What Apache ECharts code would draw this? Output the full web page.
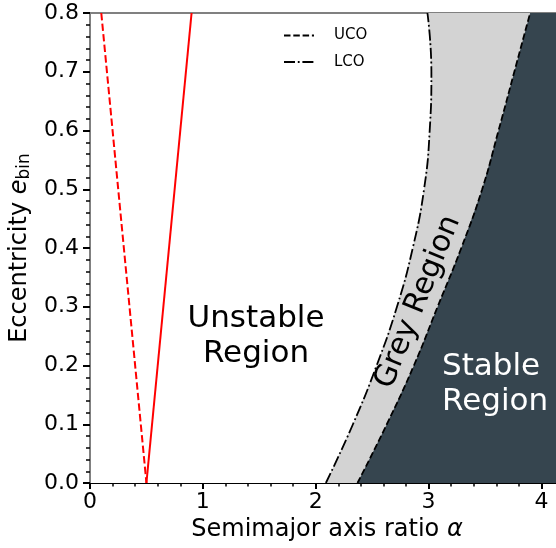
<!DOCTYPE html>
<html>
<head>
<meta charset="utf-8">
<script src="https://cdn.jsdelivr.net/npm/echarts@6/dist/echarts.min.js"></script>
<style>
  html, body { margin: 0; padding: 0; background: #ffffff; }
  #chart { width: 556px; height: 548px; }
</style>
</head>
<body>
<div id="chart"></div>
<script>
// Binary eccentricity samples at which the orbit boundaries are tabulated
const eccSamples = [0.0, 0.1, 0.2, 0.3, 0.4, 0.5, 0.6, 0.7, 0.8];
// Lower critical orbit (LCO): semimajor axis ratio at each eccentricity
const lcoAlpha = [2.09, 2.33, 2.54, 2.72, 2.86, 2.96, 3.01, 3.025, 2.99];
// Upper critical orbit (UCO): semimajor axis ratio at each eccentricity
const ucoAlpha = [2.37, 2.63, 2.87, 3.08, 3.29, 3.475, 3.62, 3.76, 3.90];

// Red resonance boundaries near small alpha
const redDashAlpha = [0.1, 0.5];
const redDashEcc = [0.8, 0.0];
const redSolidAlpha = [0.5, 0.9];
const redSolidEcc = [0.0, 0.8];

// Axis ranges and tick labels
const alphaRange = [0, 4.2];
const eccRange = [0, 0.8];
const xTickValues = [0, 1, 2, 3, 4];
const xTickLabels = ['0', '1', '2', '3', '4'];
const yTickValues = [0.0, 0.1, 0.2, 0.3, 0.4, 0.5, 0.6, 0.7, 0.8];
const yTickLabels = ['0.0', '0.1', '0.2', '0.3', '0.4', '0.5', '0.6', '0.7', '0.8'];

const FONT = 'DejaVu Sans';

function pairs(xs, ys) {
  return xs.map((x, i) => [x, ys[i]]);
}
const lcoPoints = pairs(lcoAlpha, eccSamples);
const ucoPoints = pairs(ucoAlpha, eccSamples);

// Closed region to the right of a boundary curve
function regionRightOf(curve) {
  return curve.concat([[alphaRange[1], eccRange[1]], [alphaRange[1], eccRange[0]]]);
}

function lookupLabel(values, labels) {
  return function (v) {
    for (let i = 0; i < values.length; i++) {
      if (Math.abs(values[i] - v) < 1e-9) return labels[i];
    }
    return '';
  };
}

function regionSeries(name, curve, color, z) {
  const poly = regionRightOf(curve);
  return {
    name: name,
    type: 'custom',
    data: [0],
    z: z,
    silent: true,
    clip: true,
    renderItem: function (params, api) {
      return {
        type: 'polygon',
        shape: { points: poly.map(p => api.coord(p)) },
        style: { fill: color, stroke: null }
      };
    }
  };
}

const chart = echarts.init(document.getElementById('chart'), null, { renderer: 'canvas' });

chart.setOption({
  animation: false,
  backgroundColor: '#ffffff',
  textStyle: { fontFamily: FONT },
  grid: {
    left: 90, top: 13, width: 474, height: 470,
    containLabel: false, outerBoundsMode: 'none'
  },
  legend: {
    orient: 'vertical',
    left: 278,
    top: 23,
    itemWidth: 30,
    itemHeight: 10,
    itemGap: 11.5,
    data: ['UCO', 'LCO'],
    itemStyle: { opacity: 0 },
    textStyle: { fontFamily: FONT, fontSize: 15, color: '#000', padding: [0, 0, 0, 15] }
  },
  xAxis: [
    {
      type: 'value',
      min: alphaRange[0],
      max: alphaRange[1],
      interval: 1,
      position: 'bottom',
      name: 'Semimajor axis ratio {i|α}',
      nameLocation: 'middle',
      nameGap: 29,
      nameTextStyle: {
        fontFamily: FONT, fontSize: 24, color: '#000',
        rich: { i: { fontFamily: FONT, fontSize: 24, fontStyle: 'italic', color: '#000' } }
      },
      axisLine: { show: true, lineStyle: { color: '#000', width: 1.2 } },
      axisTick: { show: true, length: 6, lineStyle: { color: '#000', width: 2 } },
      minorTick: { show: true, splitNumber: 5, length: 3.5, lineStyle: { color: '#000', width: 1.5 } },
      splitLine: { show: false },
      minorSplitLine: { show: false },
      axisLabel: {
        margin: 8,
        showMaxLabel: false,
        fontFamily: FONT, fontSize: 22, color: '#000',
        formatter: lookupLabel(xTickValues, xTickLabels)
      }
    },
    {
      type: 'value',
      min: alphaRange[0],
      max: alphaRange[1],
      position: 'top',
      axisLine: { show: true, lineStyle: { color: '#808080', width: 2 } },
      axisTick: { show: false },
      axisLabel: { show: false },
      splitLine: { show: false }
    }
  ],
  yAxis: {
    type: 'value',
    min: eccRange[0],
    max: eccRange[1],
    interval: 0.1,
    name: 'Eccentricity {i|e}{sub|bin}',
    nameLocation: 'middle',
    nameRotate: 90,
    nameGap: 53,
    nameTextStyle: {
      fontFamily: FONT, fontSize: 24, color: '#000',
      rich: {
        i: { fontFamily: FONT, fontSize: 24, fontStyle: 'italic', color: '#000' },
        sub: { fontFamily: FONT, fontSize: 17, color: '#000', padding: [10, 0, 0, 0] }
      }
    },
    axisLine: { show: true, lineStyle: { color: '#808080', width: 2 } },
    axisTick: { show: true, length: 7, lineStyle: { color: '#000', width: 2 } },
    minorTick: { show: true, splitNumber: 5, length: 4, lineStyle: { color: '#000', width: 1.5 } },
    splitLine: { show: false },
    minorSplitLine: { show: false },
    axisLabel: {
      margin: 11,
      fontFamily: FONT, fontSize: 22, color: '#000',
      formatter: lookupLabel(yTickValues, yTickLabels)
    }
  },
  graphic: [
    {
      type: 'text', z: 100, silent: true,
      style: {
        text: 'Unstable\nRegion', x: 256, y: 336,
        textAlign: 'center', textVerticalAlign: 'middle',
        fontFamily: FONT, fontSize: 31, lineHeight: 35, fill: '#000'
      }
    },
    {
      type: 'text', z: 100, silent: true,
      style: {
        text: 'Stable\nRegion', x: 442, y: 384,
        textAlign: 'left', textVerticalAlign: 'middle',
        fontFamily: FONT, fontSize: 31, lineHeight: 35, fill: '#ffffff'
      }
    },
    {
      type: 'text', z: 100, silent: true,
      x: 418, y: 302, rotation: 68 * Math.PI / 180,
      style: {
        text: 'Grey Region', x: 0, y: 0,
        textAlign: 'center', textVerticalAlign: 'middle',
        fontFamily: FONT, fontSize: 30, fill: '#000'
      }
    }
  ],
  series: [
    regionSeries('grey-region', lcoPoints, '#d3d3d3', 1),
    regionSeries('stable-region', ucoPoints, '#36454f', 2),
    {
      name: 'red-dashed',
      type: 'line',
      data: pairs(redDashAlpha, redDashEcc),
      symbol: 'none',
      z: 5,
      lineStyle: { color: '#ff0000', width: 2, type: [7.4, 3.2] }
    },
    {
      name: 'red-solid',
      type: 'line',
      data: pairs(redSolidAlpha, redSolidEcc),
      symbol: 'none',
      z: 5,
      lineStyle: { color: '#ff0000', width: 2, type: 'solid' }
    },
    {
      name: 'UCO',
      type: 'line',
      data: ucoPoints,
      symbol: 'none',
      smooth: true,
      z: 6,
      lineStyle: { color: '#000000', width: 1.8, type: [6.5, 2.8] },
      itemStyle: { color: '#000000' }
    },
    {
      name: 'LCO',
      type: 'line',
      data: lcoPoints,
      symbol: 'none',
      smooth: true,
      z: 6,
      lineStyle: { color: '#000000', width: 1.8, type: [11, 2.8, 1.8, 2.8] },
      itemStyle: { color: '#000000' }
    }
  ]
});
</script>
</body>
</html>
